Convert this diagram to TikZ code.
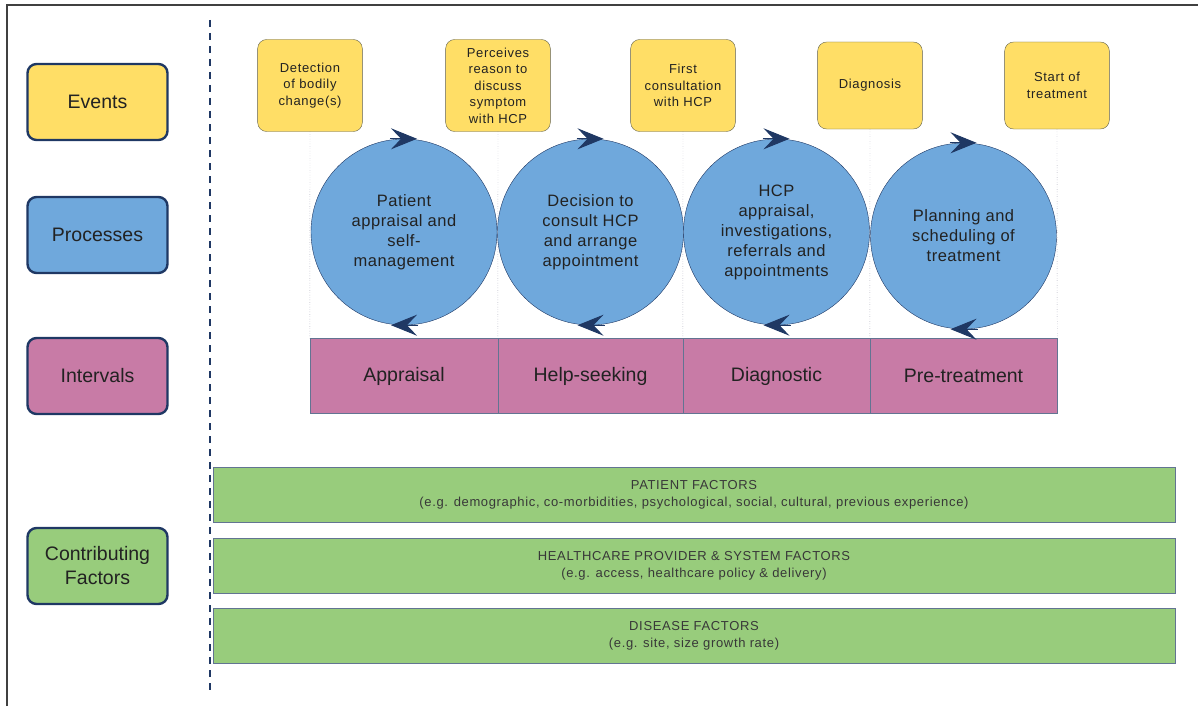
\documentclass[tikz,border=0pt]{standalone}
\usepackage{fontspec}
\setmainfont{Liberation Sans}
\usetikzlibrary{arrows.meta, positioning}

\definecolor{evYellow}{RGB}{255,222,102}
\definecolor{prBlue}{RGB}{111,168,220}
\definecolor{inPink}{RGB}{200,123,166}
\definecolor{faGreen}{RGB}{152,204,124}
\definecolor{navy}{RGB}{31,56,100}
\definecolor{rim}{RGB}{95,95,75}
\definecolor{ink}{RGB}{34,34,34}

\begin{document}
\begin{tikzpicture}[x=1pt, y=-1pt,
  legend/.style={draw=navy, line width=2.4pt, rounded corners=9pt,
    minimum width=140pt, minimum height=76pt, align=center, text=ink,
    font=\fontsize{19.5}{24}\selectfont},
  event/.style={draw=rim, thin, fill=evYellow, rounded corners=9pt,
    minimum width=103pt, minimum height=92pt, text width=98pt, align=center,
    text=ink, font=\fontsize{13}{16.5}\selectfont\addfontfeature{LetterSpace=5}},
  process/.style={circle, draw=navy, thin, fill=prBlue, minimum size=186pt,
    inner sep=0pt, align=center, text=ink,
    font=\fontsize{16.5}{20}\selectfont\addfontfeature{LetterSpace=3}},
  interval/.style={draw=navy!70, thin, fill=inPink, minimum height=75pt,
    text=ink, font=\fontsize{19.5}{22}\selectfont},
  factor/.style={draw=navy!70, thin, fill=faGreen, minimum width=962pt,
    minimum height=55pt, align=center, text=ink!90,
    font=\fontsize{13}{17}\selectfont\addfontfeature{LetterSpace=5}},
  spin/.style={navy, line width=1pt,
    -{Stealth[length=26pt, width=21pt, inset=10pt]}},
  guide/.style={dotted, gray!90!blue, thin}]

  \useasboundingbox (0,0) rectangle (1198,706);

  % frame
  \draw[line width=1.5pt, black!75] (7,706) |- (1198,5);

  % legend
  \node[legend, fill=evYellow] (lgEvents)    at (97.5,102) {Events};
  \node[legend, fill=prBlue]   (lgProcesses) at (97.5,235) {Processes};
  \node[legend, fill=inPink]   (lgIntervals) at (97.5,376) {Intervals};
  \node[legend, fill=faGreen]  (lgFactors)   at (97.5,566) {Contributing\\Factors};

  % divider
  \coordinate (divTop)    at (210,20);
  \coordinate (divBottom) at (210,696);
  \draw[navy, line width=1.8pt, dash pattern=on 7pt off 6pt] (divTop) -- (divBottom);

  % intervals
  \node[interval, minimum width=188pt] (inAppraisal) at (404,376)   {Appraisal};
  \node[interval, minimum width=185pt] (inHelp)      at (590.5,376) {Help-seeking};
  \node[interval, minimum width=187pt] (inDiag)      at (776.5,376) {Diagnostic};
  \node[interval, minimum width=187pt] (inTreat)     at (963.5,376) {Pre-treatment};

  % events
  \node[event] (evDetect)    at (310,85.5)  {Detection\\of bodily\\change(s)};
  \node[event] (evPerceive)  at (498,85.5)  {Perceives\\reason to\\discuss\\symptom\\with HCP};
  \node[event] (evConsult)   at (683,85.5)  {First\\consultation\\with HCP};
  \node[event, minimum height=87pt] (evDiagnosis) at (870,85.5)  {Diagnosis};
  \node[event, minimum height=87pt] (evStart)     at (1057,85.5) {Start of\\treatment};

  % guides
  \draw[guide] (evDetect.south)    -- (inAppraisal.north west);
  \draw[guide] (evPerceive.south)  -- (inHelp.north west);
  \draw[guide] (evConsult.south)   -- (inDiag.north west);
  \draw[guide] (evDiagnosis.south) -- (inTreat.north west);
  \draw[guide] (evStart.south)     -- (inTreat.north east);

  % processes
  \node[process] (prAppraisal) at (404,232)   {Patient\\appraisal and\\self-\\management};
  \node[process] (prHelp)      at (590.5,232) {Decision to\\consult HCP\\and arrange\\appointment};
  \node[process] (prDiag)      at (776.5,232) {HCP\\appraisal,\\investigations,\\referrals and\\appointments};
  \node[process] (prTreat)     at (963.5,236) {Planning and\\scheduling of\\treatment};

  % turning arrows
  \draw[spin] ([xshift=-14pt]prAppraisal.north) -- ([xshift=13pt]prAppraisal.north);
  \draw[spin] ([xshift=14pt]prAppraisal.south)  -- ([xshift=-13pt]prAppraisal.south);
  \draw[spin] ([xshift=-14pt]prHelp.north) -- ([xshift=13pt]prHelp.north);
  \draw[spin] ([xshift=14pt]prHelp.south)  -- ([xshift=-13pt]prHelp.south);
  \draw[spin] ([xshift=-14pt]prDiag.north) -- ([xshift=13pt]prDiag.north);
  \draw[spin] ([xshift=14pt]prDiag.south)  -- ([xshift=-13pt]prDiag.south);
  \draw[spin] ([xshift=-14pt]prTreat.north) -- ([xshift=13pt]prTreat.north);
  \draw[spin] ([xshift=14pt]prTreat.south)  -- ([xshift=-13pt]prTreat.south);

  % contributing factors
  \node[factor] (faPatient) at (694,494.5) {PATIENT FACTORS\\(e.g. demographic, co-morbidities, psychological, social, cultural, previous experience)};
  \node[factor] (faSystem)  at (694,565.5) {HEALTHCARE PROVIDER \& SYSTEM FACTORS\\(e.g. access, healthcare policy \& delivery)};
  \node[factor] (faDisease) at (694,636)   {DISEASE FACTORS\\(e.g. site, size growth rate)};
\end{tikzpicture}
\end{document}
